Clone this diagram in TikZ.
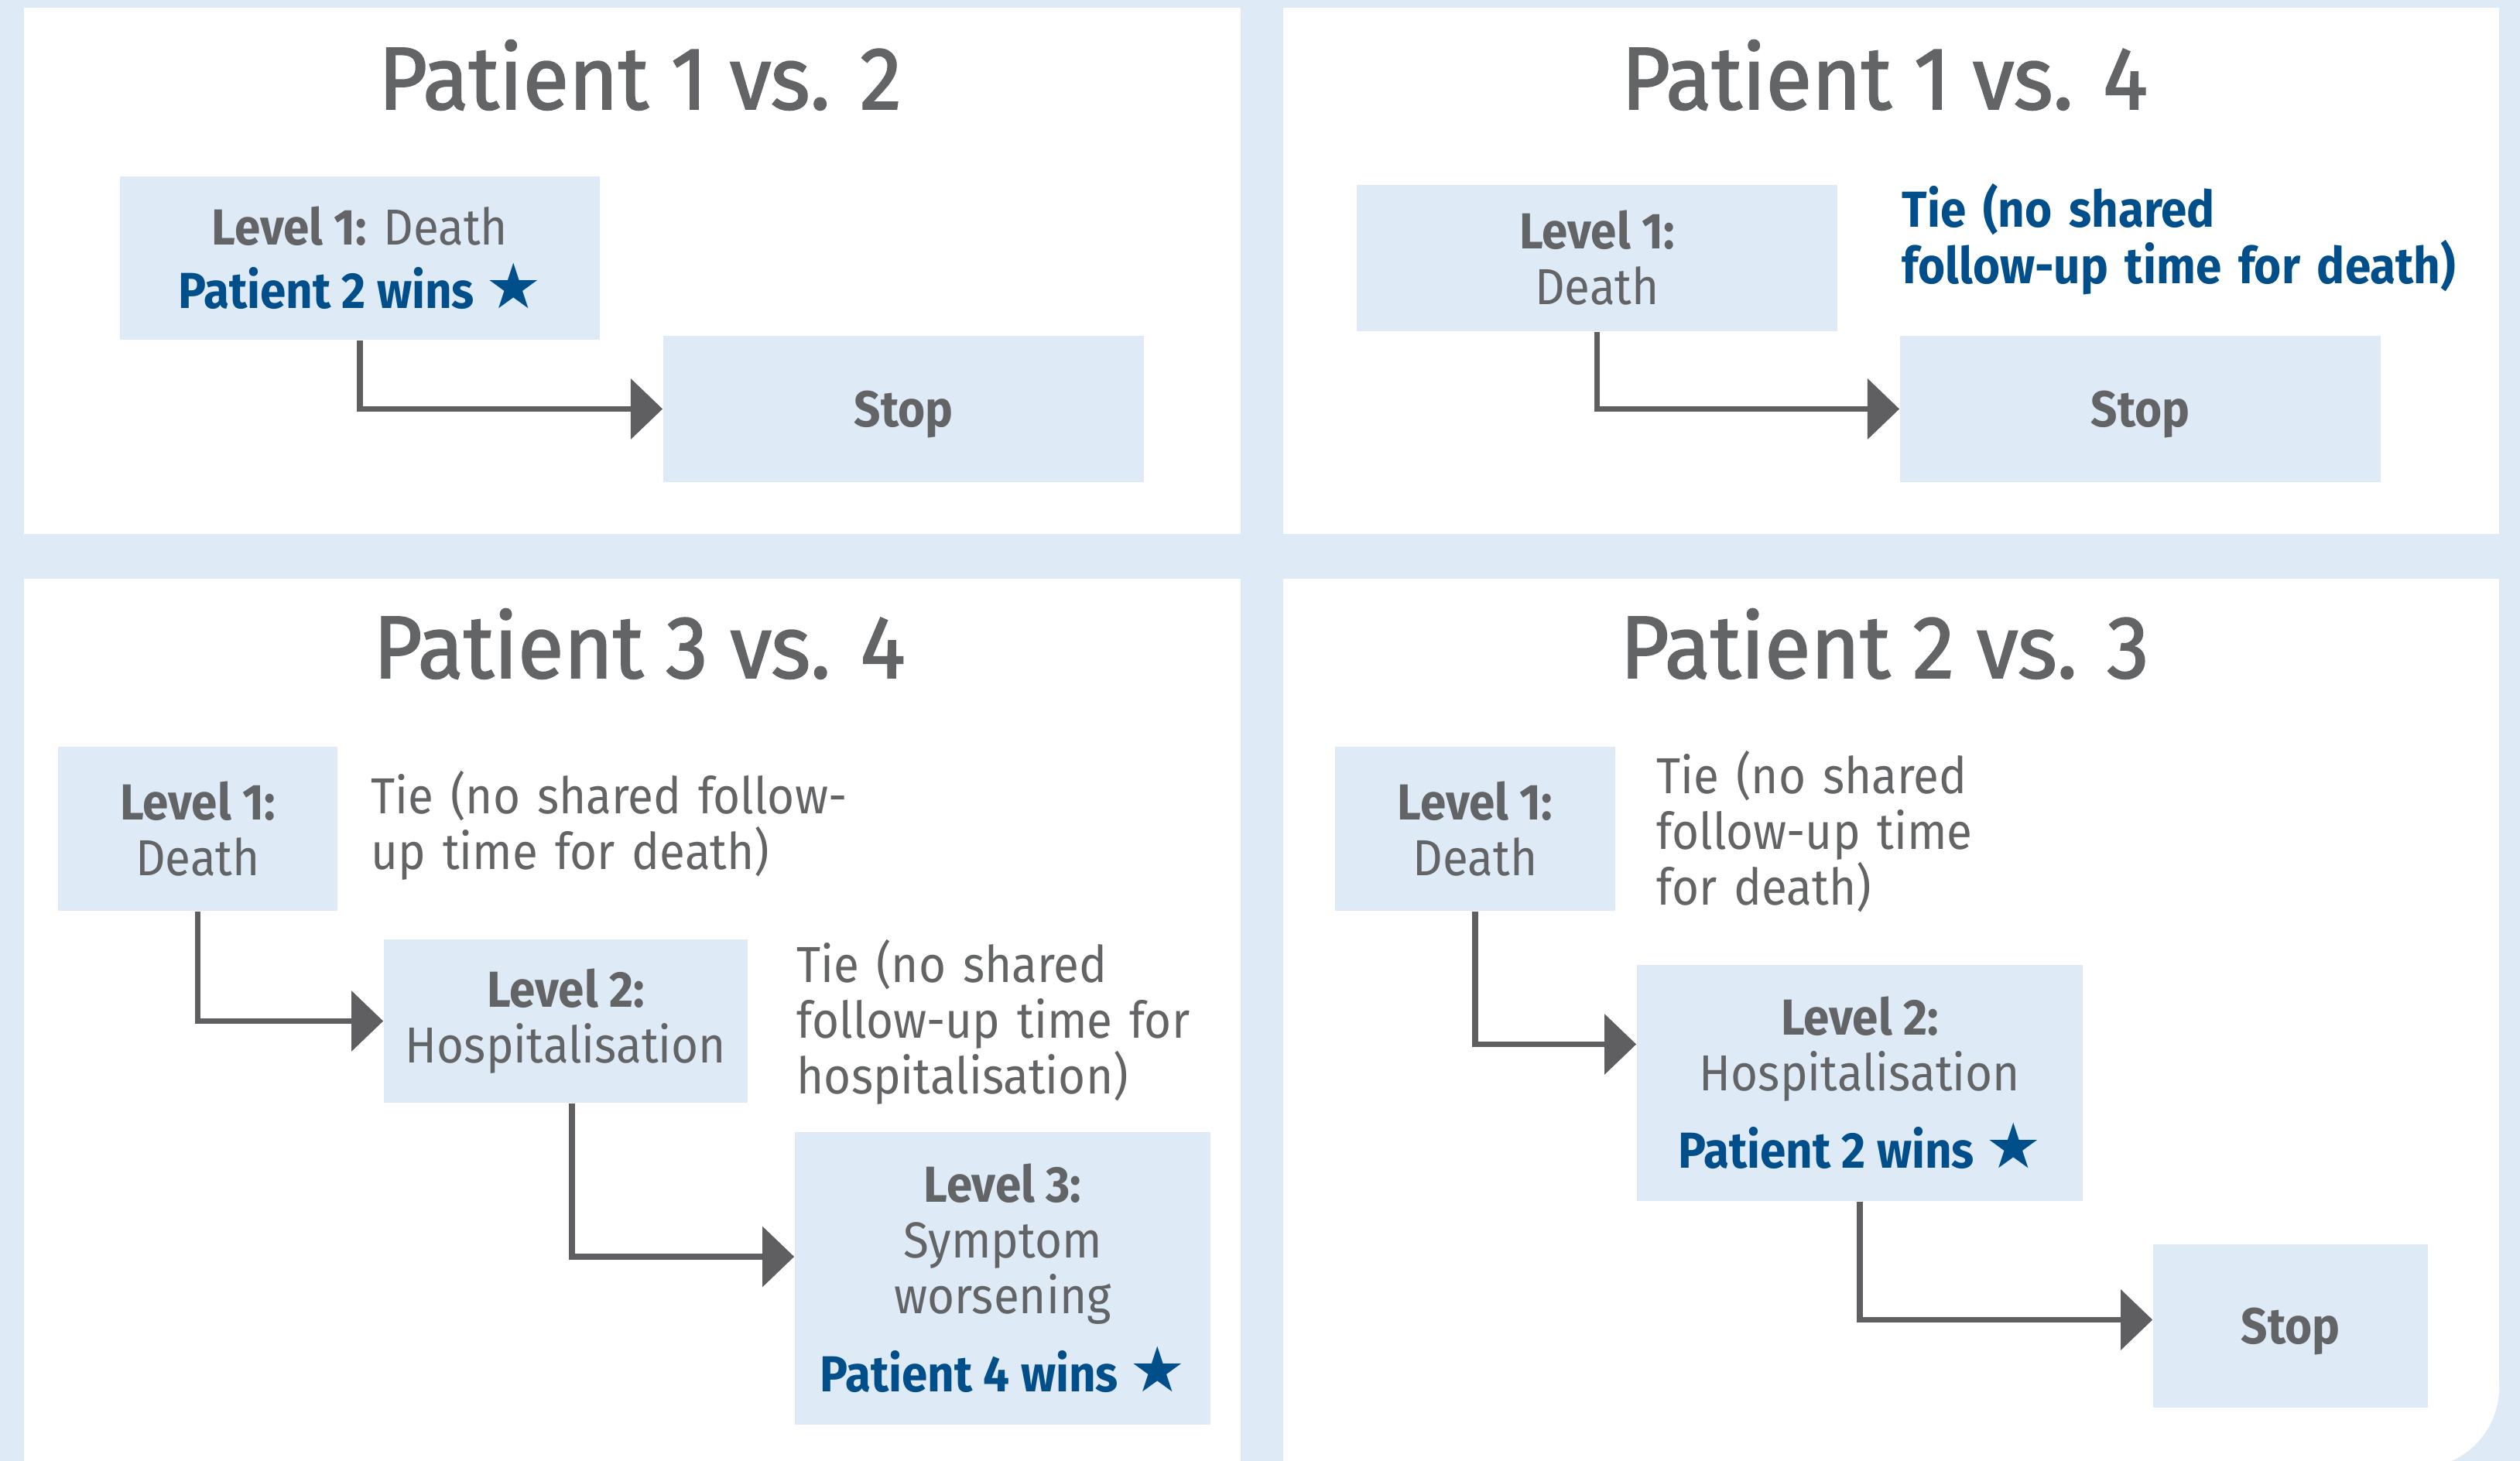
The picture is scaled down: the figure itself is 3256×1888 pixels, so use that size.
\documentclass[tikz,border=0pt]{standalone}
\usepackage{fontspec}
\setmainfont{Fira Sans}[FakeStretch=0.92]
\newfontfamily\headfamily{Fira Sans}[FakeStretch=0.95, FakeBold=1.6]
\newfontfamily\starfont{DejaVu Sans}
\usepackage{tikz}
\usetikzlibrary{arrows.meta}
\definecolor{bgblue}{HTML}{DEEAF6}
\definecolor{txtgray}{HTML}{636466}
\definecolor{winblue}{HTML}{004F8A}
\definecolor{arrgray}{HTML}{5F5F61}
\newcommand{\bodyfont}{\fontsize{18.6pt}{20.5pt}\selectfont}
\newcommand{\headfont}{\headfamily\fontsize{32.6pt}{36pt}\selectfont}
\newcommand{\winstar}{{\starfont\fontsize{23pt}{20.5pt}\selectfont ★}}

\begin{document}
\begin{tikzpicture}[x=0.01cm,y=-0.01cm]
    \tikzstyle{every node}+=[inner sep=0pt]
    \tikzstyle{head}=[anchor=base, text=txtgray, font=\headfont]
    \tikzstyle{lvl}=[fill=bgblue, align=center, text=txtgray, font=\bodyfont]
    \tikzstyle{note}=[anchor=base west, text width=10cm, align=left, text=txtgray, font=\bodyfont]
    \tikzstyle{conn}=[draw=arrgray, line width=2.2pt, -{Triangle[length=11.7pt,width=21.9pt]}]
    % background and panels
    \fill [bgblue] (0,0) rectangle (3256,1888);
    \useasboundingbox (0,0) rectangle (3256,1888);
    \fill [white] (31,10) rectangle (1603,690);
    \fill [white] (1658,10) rectangle (3229,690);
    \fill [white] (31,748) rectangle (1603,1888);
    \fill [white] (1658,748) rectangle (3229,1793);
    \fill [white] (1658,1793) rectangle (3125,1888);
    \fill [white] (3125,1793) circle (1.04cm);
    % Patient 1 vs. 2
    \node [head] (a0) at (827,141) {Patient 1 vs. 2};
    \node [lvl, minimum width=6.2cm, minimum height=2.11cm] (a1) at (465,333.5)
        {\textbf{Level 1:} Death\\[2.8pt]\textcolor{winblue}{\bfseries Patient 2 wins \winstar}};
    \node [lvl, minimum width=6.21cm, minimum height=1.89cm, text depth=0pt] (a2) at (1167.5,528.5) {\bfseries Stop};
    \draw [conn] (a1.south) |- (a2.west);
    % Patient 1 vs. 4
    \node [head] (b0) at (2435,141) {Patient 1 vs. 4};
    \node [lvl, minimum width=6.21cm, minimum height=1.89cm] (b1) at (2063.5,333.5)
        {\textbf{Level 1:}\\Death};
    \node [note, text=winblue, font=\bodyfont\bfseries] (b1n) at (2457,294)
        {Tie (no shared\\follow-up time for death)};
    \node [lvl, minimum width=6.21cm, minimum height=1.89cm, text depth=0pt] (b2) at (2765.5,528.5) {\bfseries Stop};
    \draw [conn] (b1.south) |- (b2.west);
    % Patient 3 vs. 4
    \node [head] (c0) at (826,876) {Patient 3 vs. 4};
    \node [lvl, minimum width=3.61cm, minimum height=2.12cm] (c1) at (255.5,1071)
        {\textbf{Level 1:}\\Death};
    \node [note] (c1n) at (479,1051) {Tie (no shared follow-\\up time for death)};
    \node [lvl, minimum width=4.7cm, minimum height=2.11cm] (c2) at (731,1319.5)
        {\textbf{Level 2:}\\Hospitalisation};
    \node [note] (c2n) at (1029,1269) {Tie (no shared\\follow-up time for\\hospitalisation)};
    \node [lvl, minimum width=5.37cm, minimum height=3.78cm] (c3) at (1295.5,1652)
        {\textbf{Level 3:}\\Symptom\\worsening\\[7.1pt]\textcolor{winblue}{\bfseries Patient 4 wins \winstar}};
    \draw [conn] (c1.south) |- (c2.west);
    \draw [conn] ([xshift=0.08cm]c2.south) |- ([yshift=0.28cm]c3.west);
    % Patient 2 vs. 3
    \node [head] (d0) at (2435,876) {Patient 2 vs. 3};
    \node [lvl, minimum width=3.62cm, minimum height=2.12cm] (d1) at (1906,1071)
        {\textbf{Level 1:}\\Death};
    \node [note] (d1n) at (2140,1025) {Tie (no shared\\follow-up time\\for death)};
    \node [lvl, minimum width=5.76cm, minimum height=3.05cm] (d2) at (2403,1399.5)
        {\textbf{Level 2:}\\Hospitalisation\\[6.8pt]\textcolor{winblue}{\bfseries Patient 2 wins \winstar}};
    \node [lvl, minimum width=3.55cm, minimum height=2.11cm, text depth=0pt] (d3) at (2959.5,1713.5) {\bfseries Stop};
    \draw [conn] (d1.south) |- ([yshift=0.5cm]d2.west);
    \draw [conn] (d2.south) |- ([yshift=0.08cm]d3.west);
\end{tikzpicture}
\end{document}
